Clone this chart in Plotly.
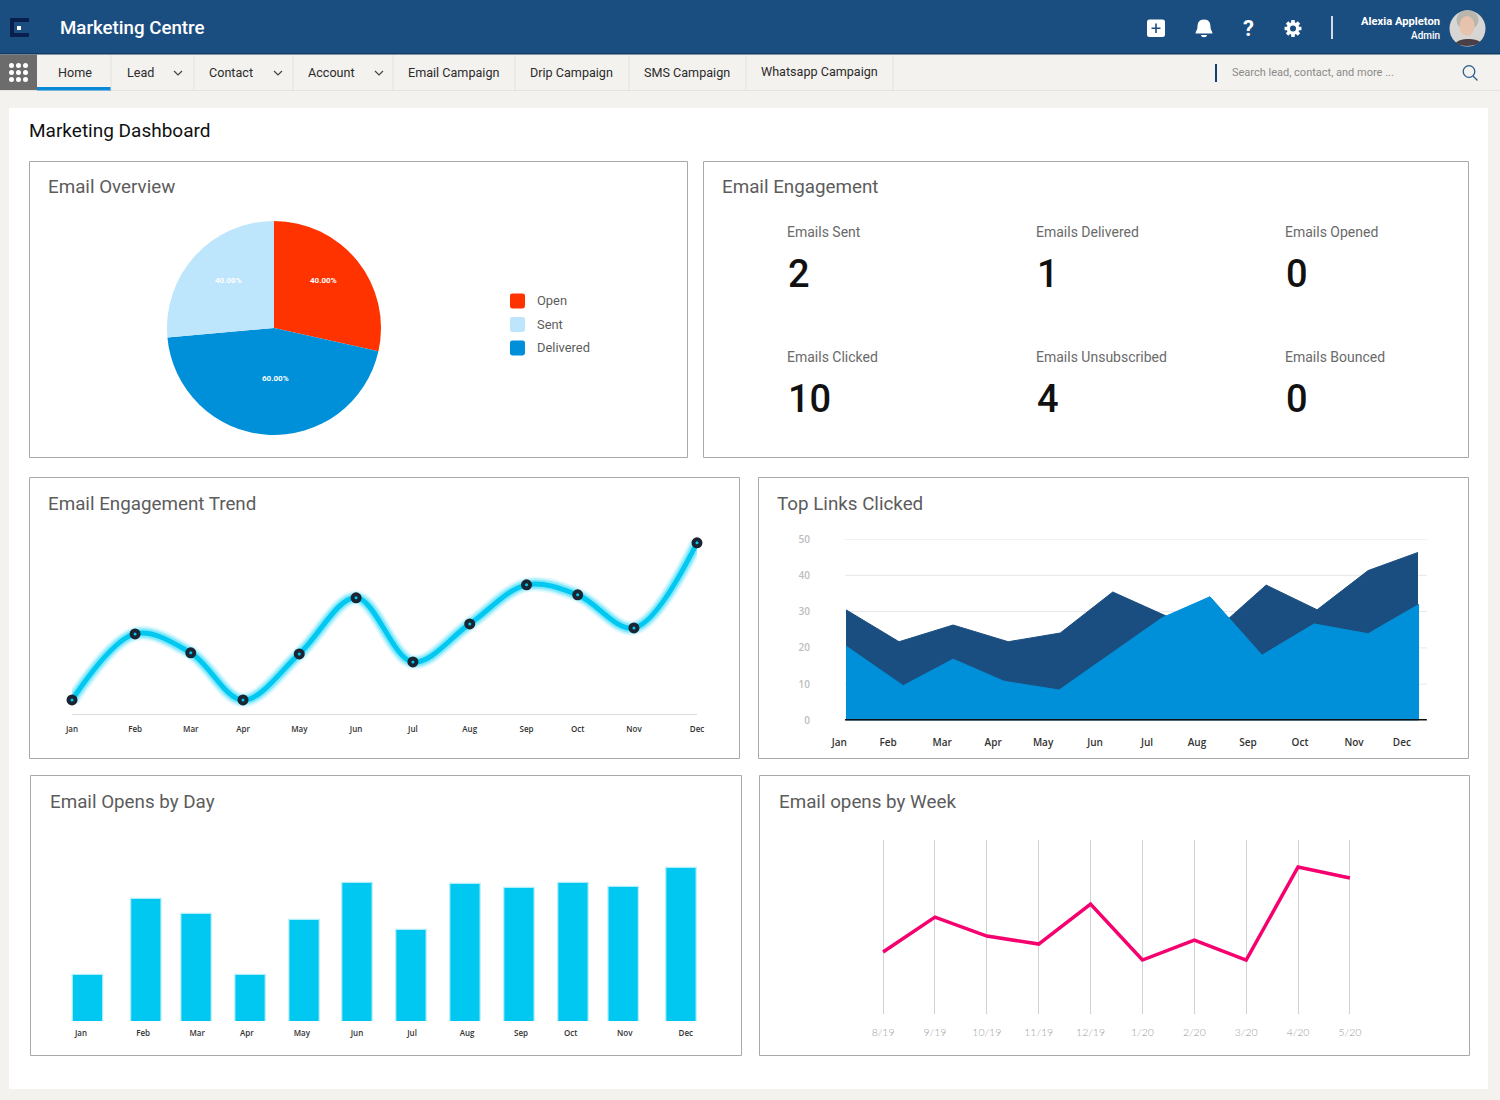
import math
import re
import plotly.graph_objects as go

# ---------- data ----------
months = ["Jan", "Feb", "Mar", "Apr", "May", "Jun", "Jul", "Aug", "Sep", "Oct", "Nov", "Dec"]

pie_labels = ["Open", "Delivered", "Sent"]
pie_values = [28.5, 45.1, 26.4]
pie_text = ["40.00%", "60.00%", "40.00%"]
legend_labels = ["Open", "Sent", "Delivered"]

kpi_names = [["Emails Sent", "Emails Delivered", "Emails Opened"],
             ["Emails Clicked", "Emails Unsubscribed", "Emails Bounced"]]
kpi_values = [["2", "1", "0"], ["10", "4", "0"]]

trend_month = [0, 1.11, 2.09, 3.01, 4.0, 5.0, 6.0, 7.0, 8.0, 8.9, 9.89, 11.0]
trend_values = [8, 45.7, 34.9, 8, 34.3, 66.3, 29.7, 51.4, 73.7, 68, 49.1, 97.7]

links_tick_month = [-0.13, 0.81, 1.85, 2.83, 3.79, 4.79, 5.79, 6.75, 7.73, 8.73, 9.77, 10.69]
links_a_month = [0, 1.02, 2.06, 3.12, 4.12, 5.13, 6.17, 7.0, 8.08, 9.06, 10.04, 11.0]
links_a_values = [30.5, 21.7, 26.3, 21.7, 24.1, 35.4, 28.7, 23.5, 37.3, 30.5, 41.3, 46.3]
links_b_month = [0, 1.10, 2.06, 3.04, 4.10, 5.13, 6.08, 7.0, 8.0, 9.0, 10.04, 11.02]
links_b_values = [20.5, 9.6, 16.9, 10.8, 8.4, 18.7, 28.3, 34.1, 18.0, 26.6, 23.9, 32.0]

day_bar_month = [0.12, 1.20, 2.13, 3.13, 4.13, 5.11, 6.11, 7.11, 8.11, 9.11, 10.04, 11.11]
day_tick_month = [0, 1.15, 2.15, 3.07, 4.09, 5.11, 6.13, 7.15, 8.15, 9.07, 10.07, 11.2]
day_values = [15.3, 40.7, 35.7, 15.3, 33.7, 46.0, 30.3, 45.7, 44.3, 46.0, 44.7, 51.0]

week_labels = ["8/19", "9/19", "10/19", "11/19", "12/19", "1/20", "2/20", "3/20", "4/20", "5/20"]
week_values = [35.6, 55.7, 44.8, 40.2, 63.2, 31.0, 42.5, 31.0, 84.5, 78.2]

nav_items = [("Home", 58), ("Lead", 127), ("Contact", 209), ("Account", 308), ("Email Campaign", 408),
             ("Drip Campaign", 530), ("SMS Campaign", 644), ("Whatsapp Campaign", 761)]

# ---------- colours ----------
NAVY = "#1b4e80"
BLUE = "#0090d9"
CYAN = "#00c8f0"
PINK = "#f5006e"
PAGE = "#f3f2ef"
BORDER = "#a9a9a9"
FONT = "Roboto"
W, H = 1500, 1100


def X(px):
    return px / W


def Y(py):
    return 1 - py / H


def dom_x(a, b):
    return [X(a), X(b)]


def dom_y(top, bottom):
    return [Y(bottom), Y(top)]


def svg(s):
    return re.sub(r"(-?[\d.]+),(-?[\d.]+)", lambda m: f"{X(float(m[1])):.5f},{Y(float(m[2])):.5f}", s)


shapes = []
annotations = []


def rect(x0, y0, x1, y1, fill=None, line=None, lw=1, layer="below"):
    shapes.append(dict(type="rect", xref="paper", yref="paper", x0=X(x0), x1=X(x1), y0=Y(y0), y1=Y(y1),
                       fillcolor=fill or "rgba(0,0,0,0)", layer=layer,
                       line=dict(color=line or "rgba(0,0,0,0)", width=lw if line else 0)))


def oval(cx, cy, rx, ry, fill=None, line=None, lw=1):
    shapes.append(dict(type="circle", xref="paper", yref="paper", x0=X(cx - rx), x1=X(cx + rx), y0=Y(cy + ry), y1=Y(cy - ry),
                       fillcolor=fill or "rgba(0,0,0,0)", layer="below",
                       line=dict(color=line or "rgba(0,0,0,0)", width=lw if line else 0)))


def path(d, fill=None, line=None, lw=1):
    shapes.append(dict(type="path", xref="paper", yref="paper", path=svg(d), layer="below",
                       fillcolor=fill or "rgba(0,0,0,0)",
                       line=dict(color=line or "rgba(0,0,0,0)", width=lw if line else 0)))


def text(x, y, s, size=13, color="#333", anchor="left", weight=400, family=FONT):
    annotations.append(dict(xref="paper", yref="paper", x=X(x), y=Y(y), text=s, showarrow=False, xanchor=anchor,
                            yanchor="middle", borderpad=0, borderwidth=0,
                            font=dict(family=family, size=size, color=color, weight=weight)))


def rounded(x0, y0, x1, y1, r):
    return (f"M{x0 + r},{y0} L{x1 - r},{y0} Q{x1},{y0} {x1},{y0 + r} L{x1},{y1 - r} Q{x1},{y1} {x1 - r},{y1} "
            f"L{x0 + r},{y1} Q{x0},{y1} {x0},{y1 - r} L{x0},{y0 + r} Q{x0},{y0} {x0 + r},{y0} Z")


# ---------- page chrome ----------
rect(0, 0, 1500, 1100, fill=PAGE)
rect(0, 0, 1500, 53.5, fill=NAVY)
rect(0, 53, 1500, 54.5, fill="#123a66")
rect(0, 90, 1500, 91, fill="#e4e3e0")
rect(9, 108, 1488, 1089, fill="white")

# logo
rect(10, 18, 29, 37, fill="#0a1f4e")
rect(14, 22, 29, 33, fill=NAVY)
rect(17, 26, 21, 30, fill="white")
rect(25, 24, 29, 31, fill=NAVY)
text(60, 27.5, "Marketing Centre", size=18.7, color="white", weight=500)

# header icons
path(rounded(1147, 19.5, 1165, 37, 2.5), fill="white")
rect(1155.2, 23.5, 1156.8, 33, fill=NAVY)
rect(1151.5, 27.5, 1160.5, 29, fill=NAVY)
path("M1204,19.5 C1209,19.5 1210.5,23 1210.5,27 C1210.5,30 1212.5,31.5 1212.5,33.5 L1195.5,33.5 "
     "C1195.5,31.5 1197.5,30 1197.5,27 C1197.5,23 1199,19.5 1204,19.5 Z", fill="white")
path("M1201,35 L1207,35 C1207,38 1201,38 1201,35 Z", fill="white")
text(1248, 28.5, "?", size=22, color="white", anchor="center", weight=700)
gear = []
for i in range(8):
    a = i * math.pi / 4
    for da, r in ((-0.30, 6.3), (-0.20, 8.6), (0.20, 8.6), (0.30, 6.3)):
        gear.append(f"{1293 + r * math.cos(a + da):.2f},{28.5 + r * math.sin(a + da):.2f}")
path("M" + " L".join(gear) + " Z", fill="white")
oval(1293, 28.5, 3, 3, fill=NAVY)
rect(1331.2, 16, 1332.8, 39, fill="white")
text(1440, 21.5, "Alexia Appleton", size=11.2, color="white", anchor="right", weight=700)
text(1440, 35, "Admin", size=10, color="white", anchor="right", weight=500)
oval(1467.5, 28.5, 18, 18, fill="#d8d6d4")
oval(1467.5, 20, 11, 10, fill="#b9b6ad")
oval(1467, 26, 7.5, 10, fill="#e7c3ae")
path("M1456,43 C1459,38 1476,38 1480,42 C1475,47 1461,47 1456,43 Z", fill="#4a3f46")

# nav bar
rect(0, 54.5, 37, 90, fill="#6c6c6c")
for cx in (11.5, 18.5, 25.5):
    for cy in (65.5, 72.5, 79.5):
        oval(cx, cy, 2.5, 2.5, fill="white")
rect(37, 87, 111, 90.5, fill="#0a8ad6")
for sx in (111, 194, 293, 393, 515, 629, 746, 893):
    rect(sx - 0.5, 55, sx + 0.5, 90, fill="#e2e1de")
for label, lx in nav_items:
    text(lx, 72.5 if label != "Whatsapp Campaign" else 71.5, label, size=12.6, color="#2b2b2b")
for cx in (178, 278, 379):
    path(f"M{cx - 4},71 L{cx},75 L{cx + 4},71", line="#444", lw=1.2)
rect(1215, 64, 1217, 82, fill="#123f78")
text(1232, 72.5, "Search lead, contact, and more ...", size=11, color="#8a8a8a")
oval(1469, 71.5, 5.8, 5.8, line="#2c5f8e", lw=1.3)
path("M1473,76 L1477.5,80.5", line="#2c5f8e", lw=1.3)

text(29, 130.5, "Marketing Dashboard", size=19, color="#111")

# cards
cards = [(29.5, 161.5, 687.5, 457.5, "Email Overview", 48, 187.5),
         (703.5, 161.5, 1468.5, 457.5, "Email Engagement", 722, 187.5),
         (29.5, 477.5, 739.5, 758.5, "Email Engagement Trend", 48, 504),
         (758.5, 477.5, 1468.5, 758.5, "Top Links Clicked", 777, 504),
         (30.5, 775.5, 741.5, 1055.5, "Email Opens by Day", 50, 801.5),
         (759.5, 775.5, 1469.5, 1055.5, "Email opens by Week", 779, 801.5)]
for x0, y0, x1, y1, title, tx, ty in cards:
    rect(x0, y0, x1, y1, fill="white", line=BORDER, lw=1)
    text(tx, ty, title, size=18.8, color="#5c5c5c")

# KPI block
for r, (ly, vy) in enumerate(((232, 273.5), (357, 398.5))):
    for c, kx in enumerate((787, 1036, 1285)):
        text(kx, ly, kpi_names[r][c], size=14, color="#6a6a6a")
        text(kx + 1, vy, kpi_values[r][c], size=38, color="#111", weight=500)

# pie legend
pie_colors = {"Open": "#ff3300", "Sent": "#bde5fb", "Delivered": "#0090d9"}
for name, ly in zip(legend_labels, (301, 324.5, 348)):
    path(rounded(510, ly - 7.5, 525, ly + 7.5, 2.5), fill=pie_colors[name])
    text(536.5, ly - 0.5, name, size=12.9, color="#5c5c5c")

# pie slice labels
for s, (px, py) in zip(pie_text, ((323, 281), (275, 379), (228, 281))):
    text(px, py, s, size=8, color="white", anchor="center", weight=700)

# ---------- traces ----------
fig = go.Figure()

fig.add_trace(go.Pie(labels=pie_labels, values=pie_values, textinfo="none", sort=False,
                     direction="clockwise", rotation=0, showlegend=False,
                     marker=dict(colors=[pie_colors[n] for n in pie_labels], line=dict(width=0)),
                     domain=dict(x=dom_x(167, 381), y=dom_y(221, 435)), hoverinfo="label+percent"))

# trend: glow layers, line, then the ringed points
for width, alpha in ((15, 0.10), (12, 0.16), (9, 0.32)):
    fig.add_trace(go.Scatter(x=trend_month, y=trend_values, mode="lines", xaxis="x", yaxis="y", showlegend=False,
                             hoverinfo="skip", line=dict(color=f"rgba(0,210,250,{alpha})", width=width, shape="spline", smoothing=1.0)))
fig.add_trace(go.Scatter(x=trend_month, y=trend_values, mode="lines", xaxis="x", yaxis="y", showlegend=False,
                         line=dict(color=CYAN, width=5, shape="spline", smoothing=1.0)))
fig.add_trace(go.Scatter(x=trend_month, y=trend_values, mode="markers", xaxis="x", yaxis="y", showlegend=False,
                         cliponaxis=False, marker=dict(size=11, color="#1a2433")))
fig.add_trace(go.Scatter(x=trend_month, y=trend_values, mode="markers", xaxis="x", yaxis="y", showlegend=False,
                         cliponaxis=False, hoverinfo="skip", marker=dict(size=3, color=CYAN)))

# top links areas
fig.add_trace(go.Scatter(x=links_a_month, y=links_a_values, mode="lines", fill="tozeroy", fillcolor=NAVY, xaxis="x2", yaxis="y2",
                         showlegend=False, line=dict(color=NAVY, width=1)))
fig.add_trace(go.Scatter(x=links_b_month, y=links_b_values, mode="lines", fill="tozeroy", fillcolor=BLUE, xaxis="x2", yaxis="y2",
                         showlegend=False, line=dict(color=BLUE, width=1)))

# bars by day
fig.add_trace(go.Bar(x=day_bar_month, y=day_values, width=0.54, xaxis="x3", yaxis="y3", showlegend=False,
                     marker=dict(color=CYAN, line=dict(color="rgba(0,200,240,0.30)", width=2.5))))

# week line
fig.add_trace(go.Scatter(x=week_labels, y=week_values, mode="lines", xaxis="x4", yaxis="y4", showlegend=False,
                         cliponaxis=False, line=dict(color=PINK, width=3.5)))

# gridlines and baseline of the links chart stop short of the label axis
for v in (10, 20, 30, 40, 50):
    shapes.append(dict(type="line", xref="x2", yref="y2", x0=-0.02, x1=11.17, y0=v, y1=v, layer="below",
                       line=dict(color="#e6e6e6", width=1)))
shapes.append(dict(type="line", xref="x2", yref="y2", x0=-0.02, x1=11.17, y0=0, y1=0, layer="above",
                   line=dict(color="#111", width=3)))

tick8 = dict(family="Open Sans", size=8, color="#333", weight=600)
layout_axes = dict(
    xaxis=dict(domain=dom_x(72, 697), range=[0, 11], tickmode="array", tickvals=trend_month, ticktext=months,
               showgrid=False, zeroline=False, showline=True, linecolor="#dcdcdc", linewidth=1, ticks="",
               ticklabelstandoff=7, tickfont=tick8, anchor="y", automargin=False),
    yaxis=dict(domain=dom_y(530, 714), range=[0, 105], visible=False, anchor="x", automargin=False),
    xaxis2=dict(domain=dom_x(828, 1440), range=[-0.346, 11.423], tickmode="array", tickvals=links_tick_month, ticktext=months,
                showgrid=False, zeroline=False, ticks="", ticklabelstandoff=14, automargin=False,
                tickfont=dict(family="Open Sans", size=10, color="#333", weight=600), anchor="y2"),
    yaxis2=dict(domain=dom_y(539, 720.5), range=[0, 50], tickmode="array", tickvals=[0, 10, 20, 30, 40, 50],
                showgrid=False, zeroline=False, ticks="", ticklabelstandoff=17, automargin=False,
                tickfont=dict(family="Open Sans", size=10, color="#bdbdbd", weight=600), anchor="x2"),
    xaxis3=dict(domain=dom_x(60, 710), range=[-0.389, 11.648], tickmode="array", tickvals=day_tick_month, ticktext=months,
                showgrid=False, zeroline=False, ticks="", ticklabelstandoff=6, tickfont=tick8, anchor="y3", automargin=False),
    yaxis3=dict(domain=dom_y(856, 1021), range=[0, 55], visible=False, anchor="x3", automargin=False),
    xaxis4=dict(domain=dom_x(881, 1352), range=[-0.04, 9.04], type="category", showgrid=True, gridcolor="#d2d2d2", gridwidth=1,
                zeroline=False, ticks="", ticklabelstandoff=10, automargin=False,
                tickfont=dict(family="Lato", size=10.5, color="#9a9a9a", weight=300), anchor="y4"),
    yaxis4=dict(domain=dom_y(840, 1014), range=[0, 100], visible=False, anchor="x4", automargin=False),
)

fig.update_layout(width=W, height=H, margin=dict(l=0, r=0, t=0, b=0, pad=0, autoexpand=False), autosize=False,
                  paper_bgcolor=PAGE, plot_bgcolor="rgba(0,0,0,0)", shapes=shapes, annotations=annotations,
                  showlegend=False, hovermode="closest", font=dict(family=FONT), **layout_axes)

fig.write_html("out.html", config=dict(displayModeBar=False),
               post_script="document.documentElement.style.margin='0';document.body.style.margin='0';")
